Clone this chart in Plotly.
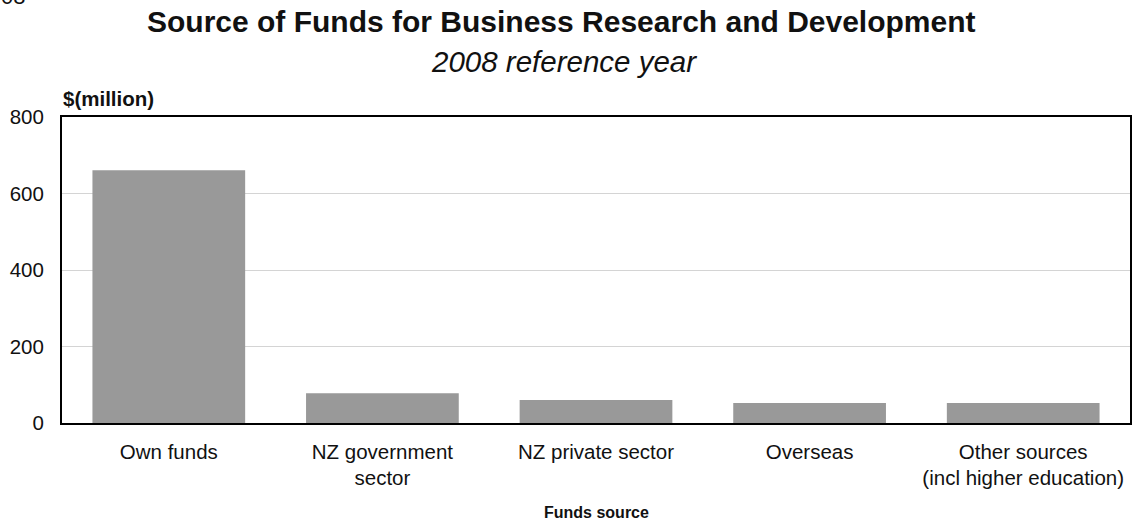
import plotly.graph_objects as go

# Source of funds for business R&D, 2008 reference year ($ million)
categories = [
    "Own funds",
    "NZ government<br>sector",
    "NZ private sector",
    "Overseas",
    "Other sources<br>(incl higher education)",
]
values = [661, 78, 60, 52, 52]
y_ticks = [0, 200, 400, 600, 800]

FONT = "Liberation Sans, Arial, sans-serif"
INK = "#111111"

fig = go.Figure(
    go.Bar(
        x=categories,
        y=values,
        marker=dict(color="#999999", line=dict(width=0)),
        hoverinfo="x+y",
    )
)

W, H = 1136, 522
L, R, T, B = 62, 4, 117, 99
plot_h = H - T - B
plot_w = W - L - R


def py(pix):
    """Convert a pixel row (from top of page) to paper y."""
    return (H - B - pix) / plot_h


def px(pix):
    """Convert a pixel column (from left of page) to paper x."""
    return (pix - L) / plot_w


fig.update_layout(
    width=W,
    height=H,
    margin=dict(l=L, r=R, t=T, b=B, pad=0),
    paper_bgcolor="white",
    plot_bgcolor="white",
    bargap=0.285,
    showlegend=False,
    font=dict(family=FONT, size=20, color=INK),
    xaxis=dict(
        showline=True,
        linecolor="black",
        linewidth=2,
        mirror=True,
        ticks="",
        showgrid=False,
        tickfont=dict(size=20.5, color=INK),
        ticklabelstandoff=9,
    ),
    yaxis=dict(
        range=[0, 800],
        tickvals=y_ticks,
        showline=True,
        linecolor="black",
        linewidth=2,
        mirror=True,
        ticks="",
        showgrid=True,
        gridcolor="#d4d4d4",
        gridwidth=1,
        zeroline=False,
        tickfont=dict(size=20.5, color=INK),
        ticklabelstandoff=12,
    ),
    annotations=[
        dict(
            text="<b>Source of Funds for Business Research and Development</b>",
            xref="paper", yref="paper", x=px(562), y=py(21),
            xanchor="center", yanchor="middle", showarrow=False,
            font=dict(family=FONT, size=30, color=INK),
        ),
        dict(
            text="<i>2008 reference year</i>",
            xref="paper", yref="paper", x=px(565), y=py(62),
            xanchor="center", yanchor="middle", showarrow=False,
            font=dict(family=FONT, size=29.5, color=INK),
        ),
        dict(
            text="<b>$(million)</b>",
            xref="paper", yref="paper", x=px(61), y=py(98),
            xanchor="left", yanchor="middle", showarrow=False,
            font=dict(family=FONT, size=20.5, color=INK),
        ),
        dict(
            text="<b>Funds source</b>",
            xref="paper", yref="paper", x=px(598), y=py(512),
            xanchor="center", yanchor="middle", showarrow=False,
            font=dict(family=FONT, size=16, color=INK),
        ),
        dict(
            text="08",
            xref="paper", yref="paper", x=px(-1), y=py(11),
            xanchor="left", yanchor="bottom", showarrow=False,
            font=dict(family=FONT, size=22, color=INK),
        ),
    ],
)

fig.write_html("out.html")
